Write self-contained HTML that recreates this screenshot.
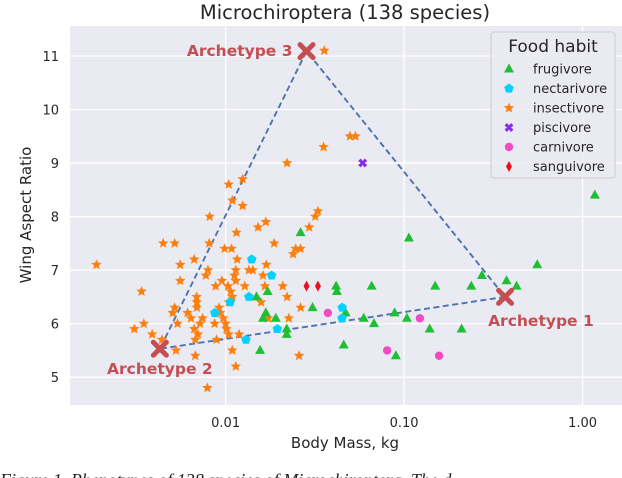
<!DOCTYPE html>
<html><head><meta charset="utf-8"><style>
html,body{margin:0;padding:0;background:#fff;overflow:hidden}
svg{display:block}
</style></head><body>
<svg id="chart" width="622" height="478" xmlns="http://www.w3.org/2000/svg" font-family="'DejaVu Sans','Liberation Sans',sans-serif">
<rect x="70" y="26" width="552" height="379" fill="#eaeaf2"/>
<g id="grid"></g>
<g id="ticks"></g>
<g id="hull"></g>
<g id="marks"></g>
<g id="arche"></g>
<text x="345" y="19" text-anchor="middle" font-size="19.5" fill="#262626">Microchiroptera (138 species)</text>
<text x="345" y="448" text-anchor="middle" font-size="15" fill="#262626">Body Mass, kg</text>
<text transform="translate(31,215) rotate(-90)" text-anchor="middle" font-size="15" fill="#262626">Wing Aspect Ratio</text>
<text x="0" y="486" font-family="'Liberation Serif',serif" font-style="italic" font-size="18" fill="#222">Figure 1. Phenotypes of 138 species of Microchiroptera. The d</text>
<g id="legend">
<rect x="491" y="32" width="124" height="146" rx="3" fill="#eaeaf2" fill-opacity="0.8" stroke="#cccccc"/>
<text x="553" y="52" text-anchor="middle" font-size="17" fill="#262626">Food habit</text>
</g>
</svg>
<script>
const NS="http://www.w3.org/2000/svg";
const xTicks=[0.01,0.1,1];
const xTickLabels=["0.01","0.10","1.00"];
const yTicks=[5,6,7,8,9,10,11];
const categories=["frugivore","nectarivore","insectivore","piscivore","carnivore","sanguivore"];
const frugMass=[0.0263,0.0416,0.0420,0.0172,0.0149,0.0307,0.0168,0.0162,0.0191,0.0220,0.0220,0.0156,0.0459,0.0470,0.1064,0.0658,0.1493,0.238,0.273,0.375,0.427,0.557,0.0594,0.0678,0.0885,0.1037,0.1391,0.210,0.0899,1.172];
const frugWar=[7.7,6.7,6.6,6.6,6.5,6.3,6.2,6.1,6.1,5.9,5.8,5.5,5.6,6.2,7.6,6.7,6.7,6.7,6.9,6.8,6.7,7.1,6.1,6.0,6.2,6.1,5.9,5.9,5.4,8.4];
const nectMass=[0.0140,0.0181,0.0135,0.0106,0.0087,0.0195,0.0130,0.0450,0.0449];
const nectWar=[7.2,6.9,6.5,6.4,6.2,5.9,5.7,6.3,6.1];
const insMass=[0.00814,0.0104,0.0109,0.01245,0.01245,0.0115,0.0152,0.0168,0.0221,0.0294,0.0318,0.0329,0.0357,0.0497,0.0534,0.0354,
0.00447,0.00518,0.0081,0.00987,0.0108,0.0187,0.0247,0.0263,0.0239,0.00667,0.0116,0.00557,0.0169,0.00796,0.0114,0.0135,0.0142,0.00775,0.0112,0.0162,0.00557,0.00953,0.0114,0.00338,0.0088,0.0103,0.0128,0.0166,0.0209,0.00688,0.0107,0.0109,0.0221,
0.0158,0.0104,0.0069,0.00518,0.0069,0.0092,0.0263,0.00505,0.00612,0.00929,0.0064,0.00743,0.0097,0.0173,0.0226,0.00348,0.00538,0.00718,0.00868,0.0100,0.00308,0.00667,0.0101,0.00388,0.0070,0.0104,0.0119,0.0044,0.00676,0.0089,0.00527,0.0109,0.00676,0.0258,0.0114,0.0079,0.00189];
const insWar=[8.0,8.6,8.3,8.7,8.2,7.7,7.8,7.9,9.0,7.8,8.0,8.1,11.1,9.5,9.5,9.3,
7.5,7.5,7.5,7.4,7.4,7.5,7.4,7.4,7.3,7.2,7.2,7.1,7.1,7.0,7.0,7.0,7.0,6.9,6.9,6.9,6.8,6.8,6.8,6.6,6.7,6.7,6.7,6.7,6.7,6.5,6.6,6.5,6.5,
6.4,6.4,6.4,6.3,6.3,6.3,6.3,6.2,6.2,6.2,6.1,6.1,6.1,6.1,6.1,6.0,6.0,6.0,6.0,6.0,5.9,5.9,5.9,5.8,5.8,5.8,5.8,5.7,5.7,5.7,5.5,5.5,5.4,5.4,5.2,4.8,7.1];
const pisMass=[0.0586];const pisWar=[9.0];
const carMass=[0.0374,0.1226,0.0804,0.1571];const carWar=[6.2,6.1,5.5,5.4];
const sanMass=[0.0284,0.0329];const sanWar=[6.7,6.7];
const archNames=["Archetype 1","Archetype 2","Archetype 3"];
const archMass=[0.368,0.00428,0.0284];
const archWar=[6.5,5.53,11.09];

const X0=70,X1=622,Y0=26,Y1=405;
const LMIN=-2.872,LMAX=0.221,YMIN=4.48,YMAX=11.56;
function xs(m){return X0+(Math.log10(m)-LMIN)/(LMAX-LMIN)*(X1-X0);}
function ys(v){return Y1-(v-YMIN)/(YMAX-YMIN)*(Y1-Y0);}
function el(t,a,p){const e=document.createElementNS(NS,t);for(const k in a)e.setAttribute(k,a[k]);p.appendChild(e);return e;}
const grid=document.getElementById('grid'),ticks=document.getElementById('ticks');
xTicks.forEach((t,i)=>{
  const l=el('line',{x1:xs(t),x2:xs(t),y1:Y0,y2:Y1,stroke:'#fff','stroke-width':1.3},grid);
  
  
  const tx=el('text',{x:xs(t),y:427,'text-anchor':'middle','font-size':13,fill:'#262626'},ticks);
  tx.textContent=xTickLabels[i];
  
  
});
yTicks.forEach(t=>{
  const l=el('line',{x1:X0,x2:X1,y1:ys(t),y2:ys(t),stroke:'#fff','stroke-width':1.3},grid);
  
  
  const tx=el('text',{x:59,y:ys(t)+5,'text-anchor':'end','font-size':13,fill:'#262626'},ticks);
  tx.textContent=String(t);
  
  
});
const hull=document.getElementById('hull');
const hp=[0,1,2,0].map(i=>xs(archMass[i])+','+ys(archWar[i])).join(' ');
const pl=el('polyline',{points:hp,fill:'none',stroke:'#4c72b0','stroke-width':1.9,'stroke-dasharray':'6,3.5'},hull);



function starPath(cx,cy,r){let d='';for(let i=0;i<10;i++){const a=-Math.PI/2+i*Math.PI/5;const rr=i%2?r*0.45:r;d+=(i?'L':'M')+(cx+rr*Math.cos(a)).toFixed(2)+','+(cy+rr*Math.sin(a)).toFixed(2);}return d+'Z';}
function marker(shape,cx,cy,color,p){
  if(shape==='tri')return el('path',{d:`M${cx},${cy-5.5}L${cx+5},${cy+3.5}L${cx-5},${cy+3.5}Z`,fill:color},p);
  if(shape==='pent'){let d='';for(let i=0;i<5;i++){const a=-Math.PI/2+i*2*Math.PI/5;d+=(i?'L':'M')+(cx+5*Math.cos(a)).toFixed(2)+','+(cy+5*Math.sin(a)).toFixed(2);}return el('path',{d:d+'Z',fill:color},p);}
  if(shape==='star')return el('path',{d:starPath(cx,cy,5.5),fill:color},p);
  if(shape==='xp')return el('path',{d:`M${cx-4.5},${cy-2}L${cx-2},${cy-4.5}L${cx},${cy-2}L${cx+2},${cy-4.5}L${cx+4.5},${cy-2}L${cx+2},${cy}L${cx+4.5},${cy+2}L${cx+2},${cy+4.5}L${cx},${cy+2}L${cx-2},${cy+4.5}L${cx-4.5},${cy+2}L${cx-2},${cy}Z`,fill:color},p);
  if(shape==='circ')return el('circle',{cx:cx,cy:cy,r:4.2,fill:color},p);
  if(shape==='dia')return el('path',{d:`M${cx},${cy-5.5}L${cx+3},${cy}L${cx},${cy+5.5}L${cx-3},${cy}Z`,fill:color},p);
}
const series=[
 {name:'frugivore',m:frugMass,w:frugWar,shape:'tri',color:'#1fbf34'},
 {name:'nectarivore',m:nectMass,w:nectWar,shape:'pent',color:'#00d2ff'},
 {name:'insectivore',m:insMass,w:insWar,shape:'star',color:'#ff7f0e'},
 {name:'piscivore',m:pisMass,w:pisWar,shape:'xp',color:'#8a2be2'},
 {name:'carnivore',m:carMass,w:carWar,shape:'circ',color:'#f04cc0'},
 {name:'sanguivore',m:sanMass,w:sanWar,shape:'dia',color:'#e8101a'}
];
const marks=document.getElementById('marks');
const order=[2,0,1,3,4,5];
order.forEach(si=>{const s=series[si];
  const g=el('g',{},marks);
  
  
  s.m.forEach((m,i)=>{const e=marker(s.shape,xs(m),ys(s.w[i]),s.color,g);
    
    });
});
const leg=document.getElementById('legend');
series.forEach((s,i)=>{const y=69+i*19.5;
  const g=el('g',{},leg);
  
  
  marker(s.shape,509,y,s.color,g);
  const t=el('text',{x:533,y:y+4.5,'font-size':13,fill:'#262626'},g);
  t.textContent=categories[i];
});
const arche=document.getElementById('arche');
const labelPos=[{dx:-17,dy:29,anchor:'start'},{dx:0,dy:25,anchor:'middle'},{dx:-14,dy:5,anchor:'end'}];
archMass.forEach((m,i)=>{const cx=xs(m),cy=ys(archWar[i]);
  const p=el('path',{d:`M${cx-6.5},${cy-6.5}L${cx+6.5},${cy+6.5}M${cx+6.5},${cy-6.5}L${cx-6.5},${cy+6.5}`,stroke:'#c44e52','stroke-width':5,'stroke-linecap':'round'},arche);
  
  
  const lp=labelPos[i];
  const t=el('text',{x:cx+lp.dx,y:cy+lp.dy,'text-anchor':lp.anchor,'font-size':15.5,'font-weight':'bold',fill:'#c44e52'},arche);
  t.textContent=archNames[i];
  
  
});
</script>
</body></html>
